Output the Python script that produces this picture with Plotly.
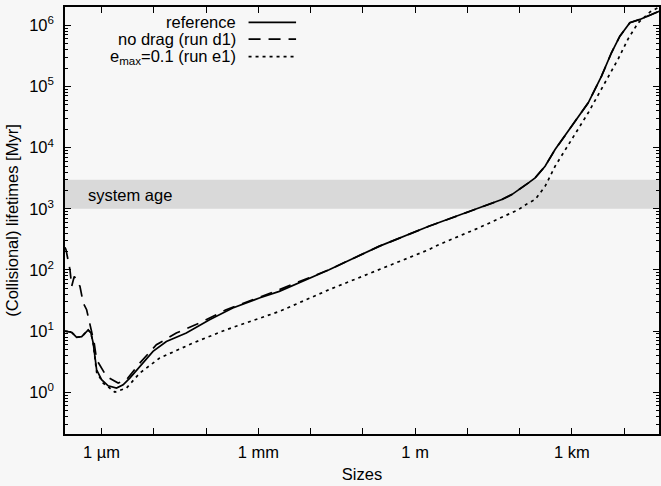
import numpy as np
import plotly.graph_objects as go

# log10(size / m) and log10(lifetime / Myr)
ref_logsize = [-6.70, -6.668, -6.572, -6.477, -6.381, -6.256, -6.204, -6.160, -6.095, -6.0,
               -5.874, -5.714, -5.588, -5.460, -5.270, -5.016, -4.760, -4.379, -3.934, -3.490,
               -2.981, -2.599, -1.646, -0.692, 0.262, 1.215, 1.660, 1.850, 2.041, 2.169,
               2.297, 2.487, 2.678, 2.995, 3.313, 3.567, 3.757, 3.918, 4.109, 4.300, 4.490, 4.67]
ref_loglife = [1.0, 0.995, 0.98, 0.90, 0.91, 1.02, 0.97, 0.805, 0.368, 0.205,
               0.106, 0.069, 0.123, 0.232, 0.422, 0.668, 0.831, 0.969, 1.187, 1.378,
               1.542, 1.650, 2.005, 2.386, 2.714, 3.015, 3.151, 3.232, 3.342, 3.424,
               3.506, 3.696, 3.969, 4.350, 4.733, 5.169, 5.552, 5.823, 6.043, 6.097, 6.162, 6.23]

nodrag_logsize = [-6.70, -6.681, -6.605, -6.572, -6.523, -6.477, -6.414, -6.351, -6.286, -6.256,
                  -6.191, -6.141, -6.095, -5.905, -5.683, -5.523, -5.270, -4.951, -4.570, -4.125,
                  -3.616, -3.108, -2.599, -1.646, -0.692, 0.262, 1.215, 1.660, 1.850, 2.041,
                  2.169, 2.297, 2.487, 2.678, 2.995, 3.313, 3.567, 3.757, 3.918, 4.109, 4.300,
                  4.490, 4.67]
nodrag_loglife = [2.37, 2.332, 2.005, 1.732, 1.895, 1.841, 1.732, 1.46, 1.35, 1.241,
                  1.023, 0.805, 0.532, 0.259, 0.151, 0.205, 0.478, 0.777, 0.969, 1.133,
                  1.35, 1.514, 1.678, 2.005, 2.386, 2.714, 3.015, 3.151, 3.232, 3.342,
                  3.424, 3.506, 3.696, 3.969, 4.350, 4.733, 5.169, 5.552, 5.823, 6.043, 6.097,
                  6.162, 6.23]

ecc_logsize = [-6.70, -6.668, -6.572, -6.477, -6.381, -6.256, -6.204, -6.160, -6.095, -5.969,
               -5.746, -5.523, -5.270, -4.888, -4.253, -3.616, -2.981, -2.599, -1.646, -0.692,
               0.262, 0.453, 1.215, 1.978, 2.169, 2.297, 2.487, 2.678, 2.995, 3.313,
               3.632, 3.886, 4.076, 4.267, 4.496, 4.67]
ecc_loglife = [1.0, 0.995, 0.98, 0.90, 0.91, 1.02, 0.97, 0.79, 0.33, 0.151,
               0.003, 0.069, 0.314, 0.560, 0.805, 1.023, 1.214, 1.322, 1.678, 2.005,
               2.332, 2.414, 2.687, 2.987, 3.097, 3.151, 3.368, 3.696, 4.133, 4.570,
               5.061, 5.45, 5.78, 6.04, 6.22, 6.30]

series_names = ["reference", "no drag (run d1)", "e<sub>max</sub>=0.1 (run e1)"]
series_dash = ["solid", "12px,8px", "3px,4px"]

age_band = [1000, 3000]
age_label = "system age"

xtick_vals = [1e-6, 1e-5, 1e-4, 1e-3, 1e-2, 1e-1, 1, 10, 100, 1e3, 1e4]
xtick_text = ["1 µm", "", "", "1 mm", "", "", "1 m", "", "", "1 km", ""]
ytick_vals = [1, 10, 100, 1e3, 1e4, 1e5, 1e6]
ytick_text = ["10<sup>%d</sup>" % i for i in range(7)]

FONT = "Liberation Sans, Arial, Helvetica, sans-serif"
FS = 16.5
BG = "#f7f7f7"

fig = go.Figure()
data = [(ref_logsize, ref_loglife), (nodrag_logsize, nodrag_loglife), (ecc_logsize, ecc_loglife)]
for (lx, ly), name, dash in zip(data, series_names, series_dash):
    fig.add_trace(go.Scatter(
        x=10 ** np.array(lx), y=10 ** np.array(ly), mode="lines", name=name,
        line=dict(color="black", width=1.7, dash=dash), showlegend=False))

fig.add_shape(type="rect", xref="paper", x0=0, x1=1, yref="y", y0=age_band[0], y1=age_band[1],
              fillcolor="#d9d9d9", line=dict(width=0), layer="below")
fig.add_annotation(xref="paper", yref="paper", x=0.036, y=0.56, text=age_label,
                   showarrow=False, xanchor="left", yanchor="middle",
                   font=dict(family=FONT, size=FS, color="black"))

# manual key (text right-aligned, sample to the right)
key_y = [0.964, 0.925, 0.884]
for name, dash, ky in zip(series_names, series_dash, key_y):
    fig.add_annotation(xref="paper", yref="paper", x=0.291, y=ky, text=name,
                       showarrow=False, xanchor="right", yanchor="middle",
                       font=dict(family=FONT, size=FS, color="black"))
    fig.add_shape(type="line", xref="paper", yref="paper", x0=0.309, x1=0.389, y0=ky, y1=ky,
                  line=dict(color="black", width=1.7, dash=dash))

axis_common = dict(showline=True, linecolor="black", linewidth=1.5, mirror="ticks",
                   ticks="inside", tickcolor="black", tickwidth=1.2, showgrid=False,
                   zeroline=False, tickfont=dict(family=FONT, size=FS, color="black"))

fig.update_xaxes(type="log", range=[-6.70, 4.667], tickmode="array", tickvals=xtick_vals,
                 ticktext=xtick_text, ticklen=6, ticklabelstandoff=2,
                 title=dict(text="Sizes", font=dict(family=FONT, size=FS, color="black"), standoff=9),
                 **axis_common)
fig.update_yaxes(type="log", range=[-0.682, 6.30], tickmode="array", tickvals=ytick_vals,
                 ticktext=ytick_text, ticklen=6, ticklabelstandoff=6,
                 minor=dict(tickvals=[m * 10.0 ** e for e in range(-1, 7) for m in range(2, 10)],
                            ticks="inside", ticklen=3, tickcolor="black", tickwidth=1, showgrid=False),
                 title=dict(text="(Collisional) lifetimes [Myr]",
                            font=dict(family=FONT, size=FS, color="black"), standoff=6),
                 **axis_common)

fig.update_layout(width=661, height=486, margin=dict(l=65, r=0, t=7, b=52),
                  paper_bgcolor=BG, plot_bgcolor=BG, font=dict(family=FONT, size=FS, color="black"))

fig.write_html("out.html")
